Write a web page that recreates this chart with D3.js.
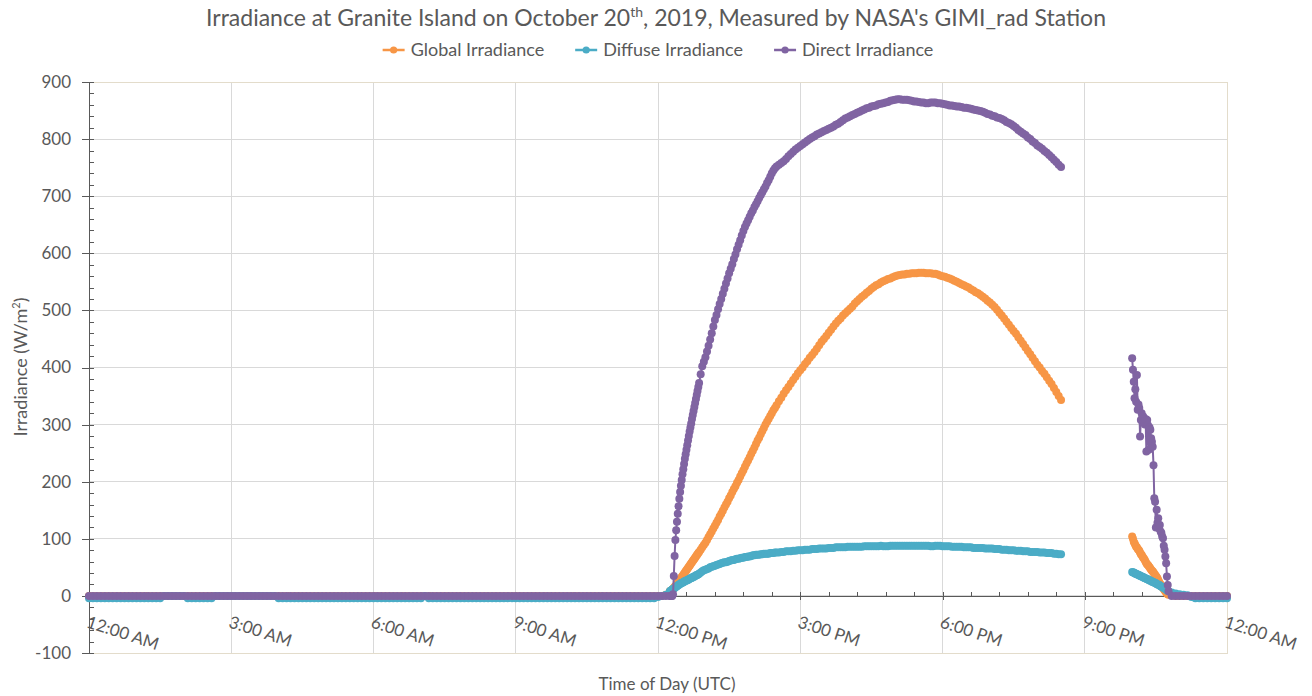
<!DOCTYPE html>
<html>
<head>
<meta charset="utf-8">
<script src="https://cdn.jsdelivr.net/npm/d3@7"></script>
<style>
  html, body { margin: 0; padding: 0; background: #ffffff; }
  svg text { font-family: Lato, "Open Sans", sans-serif; fill: #595959; }
</style>
</head>
<body>
<svg id="chart" width="1312" height="696"></svg>
<script>
// ---------------------------------------------------------------
// GIMI_rad station, Granite Island, 2019-10-20 (UTC)
// Values in W/m². Each block is sampled from its start time
// (minutes after midnight) at the given step in minutes.
// ---------------------------------------------------------------

// 00:00 - 12:15, every 5 min
const overnightStart = 0, overnightStep = 5;
const overnightGlobal = [
  0,0,0,0,0,0,0,0,0,0,0,0,
  0,0,0,0,0,0,0,0,0,0,0,0,
  0,0,0,0,0,0,0,0,0,0,0,0,
  0,0,0,0,0,0,0,0,0,0,0,0,
  0,0,0,0,0,0,0,0,0,0,0,0,
  0,0,0,0,0,0,0,0,0,0,0,0,
  0,0,0,0,0,0,0,0,0,0,0,0,
  0,0,0,0,0,0,0,0,0,0,0,0,
  0,0,0,0,0,0,0,0,0,0,0,0,
  0,0,0,0,0,0,0,0,0,0,0,0,
  0,0,0,0,0,0,0,0,0,0,0,0,
  0,0,0,0,0,0,0,0,0,0,0,0,
  0,0,2,8
];
const overnightDiffuse = [
  -4,-4,-4,-4,-4,-4,-4,-4,-4,-4,-4,-4,
  -4,-4,-4,-4,-4,-4,-4,0,0,0,0,0,
  0,-4,-4,-4,-4,-4,-4,-4,0,0,0,0,
  0,0,0,0,0,0,0,0,0,0,0,0,
  -4,-4,-4,-4,-4,-4,-4,-4,-4,-4,-4,-4,
  -4,-4,-4,-4,-4,-4,-4,-4,-4,-4,-4,-4,
  -4,-4,-4,-4,-4,-4,-4,-4,-4,-4,-4,-4,
  -4,0,-4,-4,-4,-4,-4,-4,-4,-4,-4,-4,
  -4,-4,-4,-4,-4,-4,-4,-4,-4,-4,-4,-4,
  -4,-4,-4,-4,-4,-4,-4,-4,-4,-4,-4,-4,
  -4,-4,-4,-4,-4,-4,-4,-4,-4,-4,-4,-4,
  -4,-4,-4,-4,-4,-4,-4,-4,-4,-4,-4,-4,
  -2,0,2,8
];
const overnightDirect = [
  0,0,0,0,0,0,0,0,0,0,0,0,
  0,0,0,0,0,0,0,0,0,0,0,0,
  0,0,0,0,0,0,0,0,0,0,0,0,
  0,0,0,0,0,0,0,0,0,0,0,0,
  0,0,0,0,0,0,0,0,0,0,0,0,
  0,0,0,0,0,0,0,0,0,0,0,0,
  0,0,0,0,0,0,0,0,0,0,0,0,
  0,0,0,0,0,0,0,0,0,0,0,0,
  0,0,0,0,0,0,0,0,0,0,0,0,
  0,0,0,0,0,0,0,0,0,0,0,0,
  0,0,0,0,0,0,0,0,0,0,0,0,
  0,0,0,0,0,0,0,0,0,0,0,0,
  0,0,0,0
];

// 12:16 - 12:52, every minute (sunrise ramp)
const sunriseStart = 12 * 60 + 16, sunriseStep = 1;
const sunriseGlobal = [
  9,10,11,12,14,16,17,19,21,23,
  25,27,29,31,33,35,37,39,41,43,
  45,47,49,51,53,55,57,59,61,63,
  65,67,69,71,73,75,77
];
const sunriseDiffuse = [
  9,10,11,12,13,14,15,16,17,18,
  19,20,21,22,23,23,24,25,26,26,
  27,28,28,29,30,31,31,32,33,33,
  34,35,36,36,37,38,39
];
const sunriseDirect = [
  0,0,0,3,35,70,98,115,130,144,
  157,170,182,193,203,213,222,231,240,248,
  256,264,272,280,288,295,302,310,317,324,
  331,338,345,352,359,366,373
];

// 12:54 - 14:30, every 2 min
const morningStart = 12 * 60 + 54, morningStep = 2;
const morningGlobal = [
  81,85,89,
  93,98,103,108,113,118,123,128,133,139,144,149,155,160,165,
  171,176,182,187,192,198,203,209,215,220,226,232,237,243,249,
  254,260,266,272,277,283,289,294,300,305,310,315,320,325,329,334
];
const morningDiffuse = [
  41,43,45,
  46,47,48,50,51,52,53,54,55,56,57,58,59,59,60,
  61,62,63,63,64,65,65,66,67,67,68,68,69,69,70,
  71,71,72,72,72,73,73,74,74,74,74,75,75,75,76,76
];
const morningDirect = [
  388,402,410,
  418,428,438,449,460,472,483,492,502,511,520,529,538,547,556,
  565,573,581,590,598,607,615,623,631,639,646,652,658,664,670,
  675,681,686,691,697,702,707,712,717,723,728,734,740,745,749,752
];

// 14:33 - 20:30, every 3 min
const afternoonStart = 14 * 60 + 33, afternoonStep = 3;
const afternoonGlobal = [
  341,347,354,360,366,372,378,384,390,
  395,400,406,411,417,422,427,433,439,445,450,455,461,466,472,477,482,486,491,495,
  499,503,507,512,516,520,524,527,531,534,538,541,544,546,549,551,553,555,556,558,
  560,561,562,563,563,564,564,565,565,565,566,566,566,565,565,565,564,564,563,561,
  560,559,557,556,554,552,550,548,546,544,542,540,537,535,532,530,527,524,521,517,
  514,510,506,501,496,491,486,480,475,469,464,459,453,447,441,435,429,423,417,411,
  405,400,394,389,383,377,371,364,357,350,343
];
const afternoonDiffuse = [
  76,77,77,78,78,78,79,79,80,
  80,80,81,81,81,82,82,82,83,83,83,83,84,84,84,85,85,85,85,85,
  86,86,86,86,86,86,86,87,87,87,87,87,87,87,88,87,87,87,88,88,
  88,88,88,88,88,88,88,88,88,88,88,88,88,88,88,87,87,88,88,88,
  87,87,87,87,86,86,86,86,86,85,85,85,85,84,84,84,84,84,83,83,
  83,83,82,82,82,81,81,81,80,80,80,79,79,79,78,78,78,77,77,77,
  77,76,76,76,75,75,75,74,74,73,73
];
const afternoonDirect = [
  755,758,761,765,770,774,778,782,785,
  788,791,794,797,800,803,805,808,810,812,814,816,818,820,822,825,827,830,833,836,
  838,840,842,844,846,848,850,852,854,855,857,858,859,861,862,863,864,865,867,868,
  869,870,870,869,869,869,868,867,866,866,865,864,864,863,863,864,864,864,863,863,
  862,861,860,859,859,858,857,857,856,855,855,854,853,852,851,850,849,848,846,844,
  843,841,840,838,837,835,833,830,828,826,823,820,816,813,810,807,803,800,796,793,
  789,786,783,779,776,772,768,764,760,755,751
];

// 22:00 - 22:46, every minute (after the data gap)
const eveningStart = 22 * 60, eveningStep = 1;
const eveningGlobal = [
  104,100,95,92,89,86,85,82,81,79,
  76,73,72,69,67,65,63,60,57,55,
  54,52,50,48,46,44,43,41,39,37,
  35,33,31,28,25,22,20,17,16,14,
  12,10,8,6,4,3,2
];
const eveningDiffuse = [
  42,41,41,40,39,39,38,37,37,36,
  35,35,34,33,33,32,31,31,30,29,
  29,28,27,27,26,25,25,24,23,23,
  22,21,20,20,19,18,17,16,16,15,
  14,13,12,11,10,9,8
];
const eveningDirect = [
  416,396,375,346,362,340,387,326,335,329,
  279,308,320,311,314,305,300,310,253,308,
  299,256,295,291,276,270,261,229,171,165,
  120,151,128,136,118,124,113,110,104,101,
  88,81,69,57,34,19,8
];

// 22:50 - 24:00, every 5 min
const lateStart = 22 * 60 + 50, lateStep = 5;
const lateGlobal  = [1,0,0,0,0,0,0,0,0,0,0,0,0,0,0];
const lateDiffuse = [6,4,3,2,1,-2,-4,-4,-4,-4,-4,-4,-4,-4,-4];
const lateDirect  = [0,0,0,0,0,0,0,0,0,0,0,0,0,0,0];

// Axis ticks
const xTickValues = [0, 180, 360, 540, 720, 900, 1080, 1260, 1440];
const xTickLabels = ["12:00 AM", "3:00 AM", "6:00 AM", "9:00 AM", "12:00 PM",
                     "3:00 PM", "6:00 PM", "9:00 PM", "12:00 AM"];
const yTickValues = [-100, 0, 100, 200, 300, 400, 500, 600, 700, 800, 900];

const seriesNames  = ["Global Irradiance", "Diffuse Irradiance", "Direct Irradiance"];
const seriesColors = ["#F79646", "#4BACC6", "#8064A2"];

// ---------------------------------------------------------------
// Assemble the two continuous runs (before and after the gap)
// ---------------------------------------------------------------
function block(start, step, g, df, dr) {
  return g.map((v, i) => ({ t: start + i * step, values: [v, df[i], dr[i]] }));
}
const runs = [
  [].concat(
    block(overnightStart, overnightStep, overnightGlobal, overnightDiffuse, overnightDirect),
    block(sunriseStart, sunriseStep, sunriseGlobal, sunriseDiffuse, sunriseDirect),
    block(morningStart, morningStep, morningGlobal, morningDiffuse, morningDirect),
    block(afternoonStart, afternoonStep, afternoonGlobal, afternoonDiffuse, afternoonDirect)
  ),
  [].concat(
    block(eveningStart, eveningStep, eveningGlobal, eveningDiffuse, eveningDirect),
    block(lateStart, lateStep, lateGlobal, lateDiffuse, lateDirect)
  )
];

// ---------------------------------------------------------------
// Scales and layout
// ---------------------------------------------------------------
const svg = d3.select("#chart");
const x = d3.scaleLinear().domain([0, 1440]).range([89, 1227]);
const y = d3.scaleLinear().domain([-100, 900]).range([653, 82]);
const textColor = "#595959";
const tickFont = 17;
const markerRadius = 4;

// Gridlines
const grid = svg.append("g").attr("shape-rendering", "crispEdges");
grid.selectAll("line.hgrid").data(yTickValues).join("line")
  .attr("class", "hgrid")
  .attr("x1", x(0)).attr("x2", x(1440))
  .attr("y1", d => y(d)).attr("y2", d => y(d))
  .attr("stroke", "#d9d9d9").attr("stroke-width", 1);
grid.selectAll("line.vgrid").data(xTickValues.slice(1)).join("line")
  .attr("class", "vgrid")
  .attr("x1", d => x(d)).attr("x2", d => x(d))
  .attr("y1", y(900)).attr("y2", y(-100))
  .attr("stroke", "#d9d9d9").attr("stroke-width", 1);

// Plot-area frame
svg.append("rect")
  .attr("x", x(0)).attr("y", y(900))
  .attr("width", x(1440) - x(0)).attr("height", y(-100) - y(900))
  .attr("fill", "none").attr("stroke", "#e3dccb").attr("stroke-width", 1)
  .attr("shape-rendering", "crispEdges");

// Y axis: major ticks cross the line, minor ticks point inward
const yAxis = svg.append("g")
  .attr("transform", `translate(${x(0)},0)`)
  .call(d3.axisLeft(y).tickValues(yTickValues).tickSize(7).tickSizeOuter(0).tickPadding(11)
        .tickFormat(d => String(d)))
  .attr("color", textColor).attr("font-size", tickFont).attr("font-family", null);
yAxis.selectAll(".tick line").attr("x1", 5).attr("shape-rendering", "crispEdges");
yAxis.select(".domain").attr("shape-rendering", "crispEdges");

const yMinor = d3.range(-100, 901, 20).filter(v => v % 100 !== 0);
svg.append("g")
  .attr("transform", `translate(${x(0)},0)`)
  .call(d3.axisLeft(y).tickValues(yMinor).tickSize(-5).tickFormat(""))
  .attr("color", textColor).attr("shape-rendering", "crispEdges")
  .call(g => g.select(".domain").remove());

// X axis along the zero line
const xAxis = svg.append("g")
  .attr("transform", `translate(0,${y(0)})`)
  .call(d3.axisBottom(x).tickValues(xTickValues).tickSize(4).tickSizeOuter(0)
        .tickFormat((d, i) => xTickLabels[i]))
  .attr("color", textColor).attr("font-size", tickFont).attr("font-family", null);
xAxis.selectAll(".tick line").attr("y1", -4).attr("shape-rendering", "crispEdges");
xAxis.select(".domain").attr("shape-rendering", "crispEdges");
xAxis.selectAll(".tick text")
  .attr("text-anchor", "start")
  .attr("x", 0).attr("y", 0).attr("dy", null)
  .attr("transform", "translate(-4,31) rotate(18)");

const xMinor = d3.range(0, 1441, 36).filter(m => m % 180 !== 0);
svg.append("g")
  .attr("transform", `translate(0,${y(0)})`)
  .call(d3.axisBottom(x).tickValues(xMinor).tickSize(-4).tickFormat(""))
  .attr("color", textColor).attr("shape-rendering", "crispEdges")
  .call(g => g.select(".domain").remove());

// ---------------------------------------------------------------
// Series: thin line plus circle markers, drawn in legend order
// ---------------------------------------------------------------
const plot = svg.append("g");
seriesNames.forEach((name, si) => {
  const g = plot.append("g").attr("class", "series");
  const line = d3.line().x(d => x(d.t)).y(d => y(d.values[si]));
  runs.forEach(run => {
    g.append("path")
      .datum(run)
      .attr("d", line)
      .attr("fill", "none")
      .attr("stroke", seriesColors[si])
      .attr("stroke-width", 2)
      .attr("stroke-linejoin", "round");
    g.selectAll(null).data(run).join("circle")
      .attr("cx", d => x(d.t))
      .attr("cy", d => y(d.values[si]))
      .attr("r", markerRadius)
      .attr("fill", seriesColors[si]);
  });
});

// ---------------------------------------------------------------
// Titles
// ---------------------------------------------------------------
const title = svg.append("text")
  .attr("x", 656).attr("y", 26)
  .attr("text-anchor", "middle")
  .attr("font-size", 23);
title.append("tspan").text("Irradiance at Granite Island on October 20");
title.append("tspan").text("th").attr("font-size", 14).attr("dy", -9);
title.append("tspan").text(", 2019, Measured by NASA's GIMI_rad Station").attr("dy", 9);

const yTitle = svg.append("text")
  .attr("transform", "translate(27,367) rotate(-90)")
  .attr("text-anchor", "middle")
  .attr("font-size", 18);
yTitle.append("tspan").text("Irradiance (W/m");
yTitle.append("tspan").text("2").attr("font-size", 11).attr("dy", -7);
yTitle.append("tspan").text(")").attr("dy", 7);

svg.append("text")
  .attr("x", 667).attr("y", 690)
  .attr("text-anchor", "middle")
  .attr("font-size", 17)
  .text("Time of Day (UTC)");

// ---------------------------------------------------------------
// Legend, centred above the plot
// ---------------------------------------------------------------
const legend = svg.append("g");
const items = legend.selectAll("g").data(seriesNames).join("g");
items.append("line")
  .attr("x1", 0).attr("x2", 22).attr("y1", 0).attr("y2", 0)
  .attr("stroke", (d, i) => seriesColors[i]).attr("stroke-width", 2.5);
items.append("circle")
  .attr("cx", 11).attr("cy", 0).attr("r", 3.6)
  .attr("fill", (d, i) => seriesColors[i]);
items.append("text")
  .attr("x", 28).attr("y", 6)
  .attr("font-size", 18)
  .text(d => d);
const widths = [];
items.each(function () {
  widths.push(28 + d3.select(this).select("text").node().getComputedTextLength());
});
const gap = 31;
const total = d3.sum(widths) + gap * (widths.length - 1);
let cursor = 658 - total / 2;
items.attr("transform", (d, i) => {
  const tx = cursor;
  cursor += widths[i] + gap;
  return `translate(${tx},50)`;
});
</script>
</body>
</html>
